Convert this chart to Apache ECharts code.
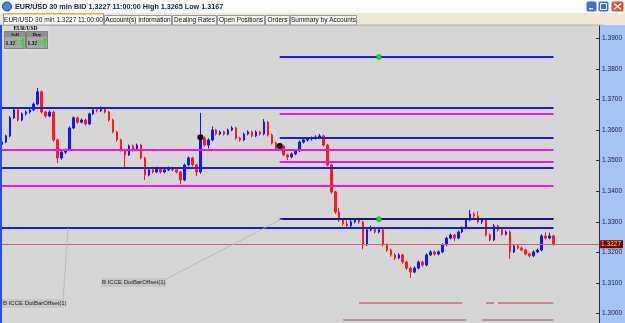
<!DOCTYPE html>
<html>
<head>
<meta charset="utf-8">
<script src="https://cdn.jsdelivr.net/npm/echarts@6/dist/echarts.min.js"></script>
<style>
  html, body { margin: 0; padding: 0; background: #a6c4f2; overflow: hidden; }
  /* taller than the window so the price scale can run below the visible edge */
  #chart { width: 625px; height: 345px; }
</style>
</head>
<body>
<div id="chart"></div>
<script>
// EUR/USD 30 min bars: [open, close, low, high]
const candles = [
  [1.3553, 1.3561, 1.3549, 1.3565], [1.3561, 1.3581, 1.3557, 1.3585], [1.3581, 1.3640, 1.3577, 1.3646],
  [1.3640, 1.3666, 1.3636, 1.3672], [1.3666, 1.3633, 1.3628, 1.3670], [1.3633, 1.3653, 1.3629, 1.3658],
  [1.3653, 1.3659, 1.3648, 1.3664], [1.3659, 1.3666, 1.3654, 1.3670], [1.3666, 1.3685, 1.3662, 1.3690],
  [1.3685, 1.3725, 1.3681, 1.3738], [1.3725, 1.3659, 1.3654, 1.3729], [1.3659, 1.3646, 1.3640, 1.3663],
  [1.3646, 1.3659, 1.3642, 1.3664], [1.3659, 1.3568, 1.3562, 1.3663], [1.3568, 1.3509, 1.3492, 1.3572],
  [1.3509, 1.3528, 1.3504, 1.3533], [1.3528, 1.3535, 1.3522, 1.3540], [1.3535, 1.3607, 1.3531, 1.3612],
  [1.3607, 1.3640, 1.3603, 1.3645], [1.3640, 1.3626, 1.3621, 1.3644], [1.3626, 1.3633, 1.3622, 1.3638],
  [1.3633, 1.3620, 1.3615, 1.3637], [1.3620, 1.3653, 1.3616, 1.3657], [1.3653, 1.3666, 1.3649, 1.3670],
  [1.3666, 1.3663, 1.3658, 1.3670], [1.3663, 1.3672, 1.3659, 1.3677], [1.3672, 1.3659, 1.3654, 1.3676],
  [1.3659, 1.3633, 1.3628, 1.3663], [1.3633, 1.3594, 1.3589, 1.3637], [1.3594, 1.3568, 1.3562, 1.3598],
  [1.3568, 1.3535, 1.3530, 1.3572], [1.3535, 1.3519, 1.3479, 1.3539], [1.3519, 1.3548, 1.3515, 1.3553],
  [1.3548, 1.3535, 1.3530, 1.3552], [1.3535, 1.3551, 1.3531, 1.3556], [1.3551, 1.3509, 1.3504, 1.3555],
  [1.3509, 1.3453, 1.3437, 1.3513], [1.3453, 1.3470, 1.3449, 1.3475], [1.3470, 1.3463, 1.3458, 1.3474],
  [1.3463, 1.3476, 1.3459, 1.3481], [1.3476, 1.3463, 1.3458, 1.3480], [1.3463, 1.3470, 1.3459, 1.3475],
  [1.3470, 1.3476, 1.3466, 1.3481], [1.3476, 1.3470, 1.3465, 1.3480], [1.3470, 1.3463, 1.3458, 1.3474],
  [1.3463, 1.3437, 1.3424, 1.3467], [1.3437, 1.3486, 1.3433, 1.3491], [1.3486, 1.3509, 1.3482, 1.3514],
  [1.3509, 1.3486, 1.3481, 1.3513], [1.3486, 1.3463, 1.3450, 1.3490], [1.3463, 1.3574, 1.3458, 1.3656],
  [1.3574, 1.3551, 1.3546, 1.3580], [1.3551, 1.3568, 1.3540, 1.3573], [1.3568, 1.3600, 1.3564, 1.3612],
  [1.3600, 1.3587, 1.3582, 1.3604], [1.3587, 1.3594, 1.3583, 1.3599], [1.3594, 1.3587, 1.3582, 1.3598],
  [1.3587, 1.3600, 1.3583, 1.3605], [1.3600, 1.3607, 1.3596, 1.3613], [1.3607, 1.3574, 1.3569, 1.3611],
  [1.3574, 1.3568, 1.3562, 1.3578], [1.3568, 1.3587, 1.3564, 1.3592], [1.3587, 1.3594, 1.3583, 1.3599],
  [1.3594, 1.3581, 1.3576, 1.3598], [1.3581, 1.3594, 1.3577, 1.3599], [1.3594, 1.3587, 1.3582, 1.3598],
  [1.3587, 1.3626, 1.3583, 1.3636], [1.3626, 1.3584, 1.3579, 1.3630], [1.3584, 1.3558, 1.3553, 1.3588],
  [1.3558, 1.3541, 1.3536, 1.3562], [1.3541, 1.3548, 1.3532, 1.3553], [1.3548, 1.3519, 1.3514, 1.3552],
  [1.3519, 1.3512, 1.3502, 1.3523], [1.3512, 1.3522, 1.3508, 1.3527], [1.3522, 1.3532, 1.3518, 1.3537],
  [1.3532, 1.3561, 1.3528, 1.3566], [1.3561, 1.3568, 1.3556, 1.3573], [1.3568, 1.3571, 1.3563, 1.3576],
  [1.3571, 1.3574, 1.3566, 1.3579], [1.3574, 1.3577, 1.3569, 1.3583], [1.3577, 1.3581, 1.3572, 1.3587],
  [1.3581, 1.3551, 1.3546, 1.3585], [1.3551, 1.3486, 1.3481, 1.3555], [1.3486, 1.3398, 1.3392, 1.3490],
  [1.3398, 1.3332, 1.3326, 1.3402], [1.3332, 1.3306, 1.3300, 1.3345], [1.3306, 1.3293, 1.3287, 1.3312],
  [1.3293, 1.3287, 1.3280, 1.3305], [1.3287, 1.3300, 1.3283, 1.3310], [1.3300, 1.3306, 1.3295, 1.3312],
  [1.3306, 1.3300, 1.3294, 1.3310], [1.3300, 1.3225, 1.3211, 1.3304], [1.3225, 1.3274, 1.3221, 1.3280],
  [1.3274, 1.3280, 1.3269, 1.3288], [1.3280, 1.3267, 1.3262, 1.3284], [1.3267, 1.3274, 1.3263, 1.3282],
  [1.3274, 1.3225, 1.3220, 1.3278], [1.3225, 1.3208, 1.3202, 1.3230], [1.3208, 1.3192, 1.3186, 1.3213],
  [1.3192, 1.3182, 1.3175, 1.3197], [1.3182, 1.3192, 1.3178, 1.3198], [1.3192, 1.3169, 1.3163, 1.3196],
  [1.3169, 1.3149, 1.3143, 1.3173], [1.3149, 1.3136, 1.3117, 1.3153], [1.3136, 1.3149, 1.3132, 1.3155],
  [1.3149, 1.3169, 1.3145, 1.3174], [1.3169, 1.3159, 1.3153, 1.3173], [1.3159, 1.3192, 1.3155, 1.3197],
  [1.3192, 1.3202, 1.3188, 1.3207], [1.3202, 1.3195, 1.3190, 1.3206], [1.3195, 1.3202, 1.3191, 1.3207],
  [1.3202, 1.3225, 1.3198, 1.3230], [1.3225, 1.3247, 1.3221, 1.3252], [1.3247, 1.3257, 1.3243, 1.3262],
  [1.3257, 1.3247, 1.3237, 1.3261], [1.3247, 1.3267, 1.3243, 1.3272], [1.3267, 1.3280, 1.3263, 1.3285],
  [1.3280, 1.3306, 1.3276, 1.3311], [1.3306, 1.3326, 1.3302, 1.3339], [1.3326, 1.3319, 1.3312, 1.3332],
  [1.3319, 1.3300, 1.3295, 1.3335], [1.3300, 1.3306, 1.3293, 1.3312], [1.3306, 1.3257, 1.3252, 1.3310],
  [1.3257, 1.3241, 1.3236, 1.3262], [1.3241, 1.3287, 1.3237, 1.3293], [1.3287, 1.3274, 1.3268, 1.3291],
  [1.3274, 1.3260, 1.3255, 1.3278], [1.3260, 1.3267, 1.3256, 1.3272], [1.3267, 1.3202, 1.3179, 1.3271],
  [1.3202, 1.3221, 1.3198, 1.3226], [1.3221, 1.3215, 1.3210, 1.3225], [1.3215, 1.3208, 1.3203, 1.3219],
  [1.3208, 1.3195, 1.3190, 1.3212], [1.3195, 1.3189, 1.3184, 1.3199], [1.3189, 1.3202, 1.3185, 1.3207],
  [1.3202, 1.3208, 1.3198, 1.3213], [1.3208, 1.3254, 1.3204, 1.3260], [1.3254, 1.3247, 1.3242, 1.3266],
  [1.3247, 1.3254, 1.3243, 1.3265], [1.3254, 1.3227, 1.3222, 1.3258]
];
const slotCount = 151; // bar slots on the time axis (last ones still empty)
const lastPrice = 1.3227;

// horizontal levels: price, first bar index, kind
const levelPrice = [1.3839, 1.3672, 1.3653, 1.3574, 1.3535, 1.3496, 1.3476, 1.3417, 1.3309, 1.3280];
const levelFrom  = [70, 0, 70, 70, 0, 70, 0, 0, 70, 0];
const levelKind  = ['blue', 'blue', 'pink', 'blue', 'pink', 'pink', 'blue', 'pink', 'navy', 'blue'];
const levelTo = 139;

// broken lines under the chart: price and [from, to] bar pieces
const lowPrice = [1.3035, 1.2979];
const lowPieces = [
  [[90, 116], [122, 124], [125, 139]],
  [[86, 117], [121, 139]]
];

// order markers [bar index, price]
const blackDots = [[50, 1.3577], [70, 1.3548]];
const greenDots = [[95, 1.3839], [95, 1.3309]];

const yTicks = [1.29, 1.40, 0.01]; // min, max, step

const kindColor = { blue: '#1c1ce0', pink: '#f010f0', navy: '#141490' };
const font = 'Liberation Sans';

const chart = echarts.init(document.getElementById('chart'), null, { renderer: 'canvas' });

const lineData = levelPrice.map((p, i) => [
  { coord: [levelFrom[i], p], lineStyle: { color: kindColor[levelKind[i]], width: 2, type: 'solid' } },
  { coord: [levelTo, p] }
]);
lowPrice.forEach((p, i) => {
  lowPieces[i].forEach(seg => {
    lineData.push([
      { coord: [seg[0], p], lineStyle: { color: '#b87878', width: 1.5, type: 'solid' } },
      { coord: [seg[1], p] }
    ]);
  });
});
lineData.push({
  yAxis: lastPrice,
  lineStyle: { color: '#c86a6a', width: 1, type: 'solid' },
  label: {
    show: true, position: 'end', distance: 1,
    formatter: lastPrice.toFixed(4),
    backgroundColor: '#7a0000', color: '#ffd84a',
    fontSize: 6.5, fontFamily: font, padding: [1, 2, 0, 1]
  }
});

const dots = blackDots.map(d => ({ coord: d, symbolSize: 6, itemStyle: { color: '#000' } }))
  .concat(greenDots.map(d => ({ coord: d, symbolSize: 5, itemStyle: { color: '#18e018', borderColor: '#0a900a', borderWidth: 0.5 } })));

// window chrome
const tabs = [
  [3, 101, 'EUR/USD 30 min 1.3227 11:00:00', true],
  [104, 68, 'Account(s) Information'],
  [172, 45, 'Dealing Rates'],
  [217, 48, 'Open Positions'],
  [265, 25, 'Orders'],
  [290, 67, 'Summary by Accounts']
];
const chrome = [
  { type: 'rect', z: 100, shape: { x: 0, y: 0, width: 625, height: 13 }, style: { fill: '#fbfbfb' } },
  { type: 'circle', z: 101, shape: { cx: 7, cy: 6.5, r: 4.5 }, style: { fill: '#4a86d8', stroke: '#1b3f8b', lineWidth: 1 } },
  { type: 'text', z: 101, x: 15, y: 7, style: { text: 'EUR/USD 30 min BID 1.3227 11:00:00 High 1.3265 Low 1.3167', font: 'bold 7.2px "Liberation Sans"', fill: '#10205a', verticalAlign: 'middle' } },
  { type: 'rect', z: 101, shape: { x: 586, y: 1, width: 11, height: 11, r: 2 }, style: { fill: '#3d6ee8', stroke: '#ffffff', lineWidth: 1 } },
  { type: 'rect', z: 102, shape: { x: 589, y: 8, width: 4, height: 1.5 }, style: { fill: '#fff' } },
  { type: 'rect', z: 101, shape: { x: 598, y: 1, width: 11, height: 11, r: 2 }, style: { fill: '#3d6ee8', stroke: '#ffffff', lineWidth: 1 } },
  { type: 'rect', z: 102, shape: { x: 600.5, y: 3.5, width: 6, height: 6 }, style: { fill: 'none', stroke: '#fff', lineWidth: 1 } },
  { type: 'rect', z: 101, shape: { x: 611, y: 1, width: 13, height: 11, r: 2 }, style: { fill: '#e0502a', stroke: '#ffffff', lineWidth: 1 } },
  { type: 'line', z: 102, shape: { x1: 614, y1: 3.5, x2: 621, y2: 9.5 }, style: { stroke: '#fff', lineWidth: 1.5 } },
  { type: 'line', z: 102, shape: { x1: 621, y1: 3.5, x2: 614, y2: 9.5 }, style: { stroke: '#fff', lineWidth: 1.5 } },
  { type: 'rect', z: 100, shape: { x: 0, y: 13, width: 625, height: 12 }, style: { fill: '#ece9d8' } },
  { type: 'line', z: 100, shape: { x1: 0, y1: 25, x2: 604, y2: 25 }, style: { stroke: '#b8b4a4', lineWidth: 1 } },
  { type: 'line', z: 100, shape: { x1: 1, y1: 25, x2: 1, y2: 345 }, style: { stroke: '#2850e8', lineWidth: 2 } }
];
tabs.forEach(t => {
  chrome.push({ type: 'rect', z: 101, shape: { x: t[0] + 0.5, y: t[3] ? 13.5 : 15.5, width: t[1] - 1, height: t[3] ? 11.5 : 9.5 },
    style: { fill: t[3] ? '#ffffff' : '#f6f5ef', stroke: '#9a9a9a', lineWidth: 1 } });
  if (t[3]) chrome.push({ type: 'rect', z: 102, shape: { x: t[0] + 1, y: 13, width: t[1] - 2, height: 1.5 }, style: { fill: '#f5a623' } });
  chrome.push({ type: 'text', z: 102, x: t[0] + t[1] / 2, y: 20, style: { text: t[2], font: '6.5px "Liberation Sans"', fill: '#111', align: 'center', verticalAlign: 'middle' } });
});

// small rate panel top-left
const panel = [
  { type: 'rect', z: 50, shape: { x: 2, y: 25, width: 47, height: 27 }, style: { fill: '#dcdcdc' } },
  { type: 'text', z: 51, x: 25.5, y: 28.5, style: { text: 'EUR/USD', font: 'bold 5.5px "Liberation Serif"', fill: '#000', align: 'center', verticalAlign: 'middle' } }
];
[[4, 'Sell', '27'], [26, 'Buy', '29']].forEach(b => {
  panel.push({ type: 'rect', z: 51, shape: { x: b[0] + 0.5, y: 31.5, width: 21, height: 17 }, style: { fill: '#a8a8a8', stroke: '#808080', lineWidth: 1 } });
  panel.push({ type: 'rect', z: 52, shape: { x: b[0] + 1, y: 32, width: 20, height: 5 }, style: { fill: '#909090' } });
  panel.push({ type: 'text', z: 53, x: b[0] + 11, y: 34.5, style: { text: b[1], font: 'bold 5px "Liberation Serif"', fill: '#111', align: 'center', verticalAlign: 'middle' } });
  panel.push({ type: 'text', z: 53, x: b[0] + 1.5, y: 43.5, style: { text: '1.32', font: 'bold 5.5px "Liberation Serif"', fill: '#000', verticalAlign: 'middle' } });
  panel.push({ type: 'text', z: 53, x: b[0] + 10, y: 43.5, style: { text: b[2], font: '7px "Liberation Sans"', fill: '#20e020', verticalAlign: 'middle' } });
  panel.push({ type: 'line', z: 53, shape: { x1: b[0] + 19, y1: 48, x2: b[0] + 19, y2: 39 }, style: { stroke: '#18e018', lineWidth: 1.2 } });
  panel.push({ type: 'polygon', z: 53, shape: { points: [[b[0] + 17, 40.5], [b[0] + 21, 40.5], [b[0] + 19, 37.5]] }, style: { fill: '#18e018' } });
});

// indicator tags and their leader lines
const tags = [
  [2, 299, 62, 'B ICCE DotBarOffset(1)', [63, 302, 68, 228]],
  [101, 278, 65, 'B ICCE DotBarOffset(1)', [166, 279, 282, 219]]
];
tags.forEach(t => {
  panel.push({ type: 'line', z: 40, shape: { x1: t[4][0], y1: t[4][1], x2: t[4][2], y2: t[4][3] }, style: { stroke: '#b4b4b4', lineWidth: 0.8 } });
  panel.push({ type: 'rect', z: 41, shape: { x: t[0], y: t[1], width: t[2], height: 9 }, style: { fill: '#c6c6c6' } });
  panel.push({ type: 'text', z: 42, x: t[0] + 1, y: t[1] + 4.8, style: { text: t[3], font: '6px "Liberation Sans"', fill: '#222', verticalAlign: 'middle' } });
});

chart.setOption({
  animation: false,
  backgroundColor: '#a6c4f2',
  grid: {
    left: 0, right: 21, top: 7.7, bottom: 0.7,
    show: true, backgroundColor: '#d6d6d6', borderWidth: 0
  },
  xAxis: {
    type: 'category',
    data: Array.from({ length: slotCount }, (_, i) => String(i)),
    boundaryGap: true,
    show: false
  },
  yAxis: {
    type: 'value',
    position: 'right',
    min: yTicks[0], max: yTicks[1], interval: yTicks[2],
    splitLine: { show: false },
    axisLine: { show: true, lineStyle: { color: '#2a2a5a', width: 1 } },
    axisTick: { show: true, inside: true, length: 3, lineStyle: { color: '#2a2a5a' } },
    axisLabel: {
      margin: 3, fontSize: 6.5, fontFamily: font, color: '#1c1c40',
      formatter: v => (v > 1.3955 || v < 1.2995) ? '' : v.toFixed(4)
    }
  },
  series: [{
    type: 'candlestick',
    data: candles.map(c => [c[0], c[1], c[2], c[3]]),
    barWidth: 2,
    itemStyle: {
      color: '#1414ff', color0: '#ff1a1a',
      borderColor: '#1414ff', borderColor0: '#ff1a1a', borderWidth: 1
    },
    markLine: {
      silent: true, symbol: 'none', precision: 4,
      label: { show: false },
      data: lineData
    },
    markPoint: {
      silent: true, symbol: 'circle', label: { show: false },
      data: dots
    }
  }],
  graphic: { elements: chrome.concat(panel) }
});
</script>
</body>
</html>
